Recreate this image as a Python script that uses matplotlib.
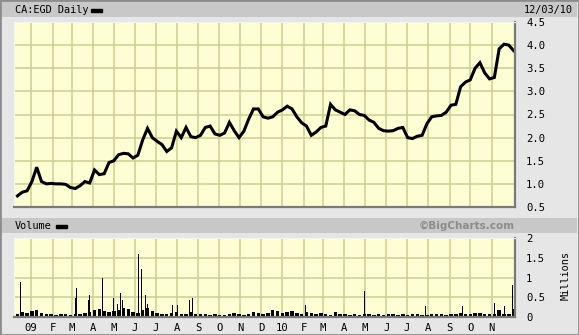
"""CA:EGD daily price and volume, Dec 2008 - Dec 2010 (BigCharts style)."""
import matplotlib
matplotlib.use("Agg")
import matplotlib.pyplot as plt
from matplotlib.patches import Rectangle
import pandas as pd

# weekly closes, Fridays 2008-12-12 .. 2010-12-03
price = [
    0.74, 0.82, 0.85, 1.05, 1.36, 1.05, 1.00, 1.01, 1.00, 1.00,
    0.99, 0.92, 0.90, 0.96, 1.05, 1.02, 1.30, 1.20, 1.22, 1.46,
    1.50, 1.63, 1.66, 1.65, 1.56, 1.62, 1.95, 2.20, 2.00, 1.92,
    1.85, 1.70, 1.78, 2.14, 2.00, 2.22, 2.02, 2.00, 2.05, 2.22,
    2.25, 2.08, 2.05, 2.10, 2.33, 2.15, 2.00, 2.14, 2.40, 2.62,
    2.62, 2.45, 2.42, 2.45, 2.55, 2.60, 2.68, 2.62, 2.45, 2.32,
    2.25, 2.05, 2.12, 2.22, 2.25, 2.72, 2.60, 2.55, 2.50, 2.60,
    2.58, 2.50, 2.48, 2.38, 2.33, 2.20, 2.15, 2.14, 2.15, 2.20,
    2.22, 2.00, 1.98, 2.03, 2.05, 2.30, 2.45, 2.47, 2.48, 2.55,
    2.70, 2.72, 3.10, 3.20, 3.25, 3.50, 3.62, 3.40, 3.27, 3.30,
    3.92, 4.02, 4.00, 3.88,
]
# weekly base volume (millions)
base_vol = [
    0.08, 0.12, 0.10, 0.15, 0.18, 0.10,
    0.07, 0.08, 0.06, 0.08, 0.07, 0.06, 0.08, 0.07, 0.10, 0.12,
    0.18, 0.20, 0.15, 0.12, 0.14, 0.18, 0.22, 0.20, 0.12, 0.10,
    0.18, 0.22, 0.15, 0.10, 0.08,
    0.07, 0.10, 0.12, 0.08, 0.08, 0.12, 0.08, 0.07, 0.08, 0.06,
    0.07, 0.06, 0.06, 0.08, 0.10, 0.07, 0.06, 0.08, 0.12, 0.10, 0.08,
    0.10, 0.18, 0.14, 0.10, 0.12, 0.15, 0.10, 0.08, 0.12,
    0.10, 0.08, 0.10, 0.07, 0.06, 0.12, 0.08, 0.07, 0.06, 0.07,
    0.06, 0.07, 0.08, 0.06, 0.07, 0.06, 0.07, 0.08, 0.06, 0.07,
    0.06, 0.08, 0.07, 0.06, 0.06, 0.07, 0.08, 0.07, 0.06, 0.07,
    0.08, 0.09, 0.07, 0.08, 0.09, 0.10, 0.07, 0.08, 0.08, 0.18,
    0.08, 0.07, 0.20,
]
# single-day volume spikes (millions)
spike_dates = [
    "2008-12-16", "2009-02-06", "2009-03-06", "2009-03-08", "2009-03-13",
    "2009-03-20", "2009-03-25", "2009-03-27", "2009-03-29", "2009-04-15",
    "2009-04-18", "2009-04-21", "2009-05-01", "2009-05-06", "2009-05-11",
    "2009-05-14", "2009-06-06", "2009-06-10", "2009-06-16", "2009-06-19",
    "2009-07-13", "2009-07-25", "2009-08-02", "2009-08-19", "2009-08-23",
    "2009-10-05", "2009-10-30", "2009-11-12", "2009-11-18", "2009-12-04",
    "2010-01-02", "2010-01-09", "2010-01-22", "2010-02-04", "2010-02-19",
    "2010-02-22", "2010-04-30", "2010-06-18", "2010-07-28", "2010-09-20",
    "2010-11-03", "2010-11-05", "2010-11-20", "2010-12-01", "2010-12-04",
]
spike_vol = [
    0.89, 0.46, 0.48, 0.74, 0.30,
    1.21, 0.42, 0.56, 0.69, 0.98,
    0.44, 0.31, 0.48, 0.33, 0.61,
    0.43, 1.60, 1.21, 0.56, 0.33,
    0.43, 0.31, 0.31, 0.42, 0.48,
    0.29, 0.29, 0.82, 0.29, 0.26,
    0.29, 0.37, 0.20, 0.31, 0.43,
    0.40, 0.67, 0.38, 0.29, 0.28,
    0.49, 0.35, 0.29, 0.80, 0.29,
]
month_labels = ["09", "F", "M", "A", "M", "J", "J", "A", "S", "O", "N", "D",
                "10", "F", "M", "A", "M", "J", "J", "A", "S", "O", "N"]
price_ticks = [0.5, 1.0, 1.5, 2.0, 2.5, 3.0, 3.5, 4.0, 4.5]
vol_ticks = [0, 0.5, 1, 1.5, 2]
vol_tick_labels = ["0", "0.5", "1", "1.5", "2"]

weeks = pd.date_range("2008-12-12", "2010-12-03", freq="W-FRI")
months = pd.date_range("2009-01-01", "2010-11-01", freq="MS")
spikes = pd.to_datetime(spike_dates)
xlim = (pd.Timestamp("2008-12-07"), pd.Timestamp("2010-12-05"))

W, H = 579, 335
BG = "#e6e6e6"
BAR = "#c8c8c8"
PLOT = "#fefed4"
GRID = "#cdcd95"
MONO = "DejaVu Sans Mono"

fig = plt.figure(figsize=(W / 100, H / 100), dpi=100, facecolor=BG)


def fx(px):
    return px / W


def fy(py):
    return 1 - py / H


# outer frame and header bars
fig.patches.append(Rectangle((0, 0), 1, 1, transform=fig.transFigure,
                             facecolor="none", edgecolor="#8c8c8c", lw=2))
for top, bot in [(2, 17), (218, 233)]:
    fig.patches.append(Rectangle((fx(2), fy(bot)), fx(575), (bot - top) / H,
                                 transform=fig.transFigure, facecolor=BAR,
                                 edgecolor="none"))

ax_p = fig.add_axes([fx(14), fy(207), fx(501), 185 / H])
ax_v = fig.add_axes([fx(14), fy(317), fx(501), 79 / H])

for ax in (ax_p, ax_v):
    ax.set_facecolor(PLOT)
    ax.set_xlim(*xlim)
    ax.set_xticks(months)
    ax.grid(True, color=GRID, lw=1.1)
    ax.set_axisbelow(True)
    ax.tick_params(length=0, labelsize=7.6)
    for side in ("top", "left"):
        ax.spines[side].set_color("#f4f4f4")
    for side in ("bottom", "right"):
        ax.spines[side].set_color("#7a7a7a")
        ax.spines[side].set_linewidth(1.6)
    ax.yaxis.tick_right()

ax_p.plot(weeks, price, color="black", lw=2.2, solid_joinstyle="miter")
ax_p.set_ylim(0.5, 4.5)
ax_p.set_yticks(price_ticks)
ax_p.set_yticklabels([f"{v:.1f}" for v in price_ticks], family=MONO)
ax_p.set_xticklabels([])
ax_p.tick_params(axis="y", pad=8)

ax_v.bar(weeks, base_vol, width=5, color="black")
ax_v.bar(spikes, spike_vol, width=0.9, color="black")
ax_v.set_ylim(0, 2)
ax_v.set_yticks(vol_ticks)
ax_v.set_yticklabels(vol_tick_labels, family=MONO)
ax_v.set_xticklabels(month_labels, family=MONO)
ax_v.tick_params(axis="y", pad=8)
ax_v.tick_params(axis="x", pad=4)

# header texts
fig.text(fx(15), fy(10), "CA:EGD Daily", family=MONO, size=7.4, va="center")
fig.patches.append(Rectangle((fx(91), fy(11.5)), fx(11), 3 / H,
                             transform=fig.transFigure, color="black"))
fig.text(fx(573), fy(10), "12/03/10", family=MONO, size=7.4,
         ha="right", va="center")
fig.text(fx(15), fy(226), "Volume", family=MONO, size=7.4, va="center")
fig.patches.append(Rectangle((fx(56), fy(227.5)), fx(11), 3 / H,
                             transform=fig.transFigure, color="black"))
fig.text(fx(515), fy(226), "\u00a9BigCharts.com", size=7.5, weight="bold",
         color="#8c8c8c", ha="right", va="center")
fig.text(fx(566), fy(276), "Millions", family=MONO, size=7.4,
         rotation=90, ha="center", va="center")

fig.savefig("out.png", dpi=100, facecolor=BG)
